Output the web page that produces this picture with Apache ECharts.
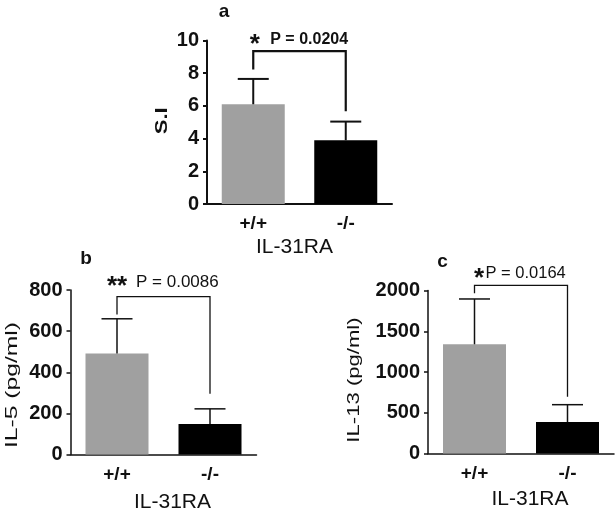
<!DOCTYPE html>
<html>
<head>
<meta charset="utf-8">
<script src="https://cdn.jsdelivr.net/npm/echarts@6/dist/echarts.min.js"></script>
<style>
html,body{margin:0;padding:0;background:#fff;}
#chart{width:615px;height:515px;}
</style>
</head>
<body>
<div id="chart"></div>
<script>
// ---- data ----
const categories = ['+/+', '-/-'];
const xTitle = 'IL-31RA';
const panelLetters = ['a', 'b', 'c'];
const yTitles = ['S.I', 'IL-5 (pg/ml)', 'IL-13 (pg/ml)'];
const yMax = [10, 800, 2000];
const yStep = [2, 200, 500];
const siMean = [6.1, 3.9];
const siSd = [1.55, 1.14];
const il5Mean = [491, 148];
const il5Sd = [169, 74];
const il13Mean = [1340, 385];
const il13Sd = [556, 214];
const stars = ['*', '**', '*'];
const pValues = ['P = 0.0204', 'P = 0.0086', 'P = 0.0164'];
// bracket: [left leg bottom, bracket top, right leg bottom] in axis units
const siBracket = [8.23, 9.35, 5.67];
const il5Bracket = [681, 768, 295];
const il13Bracket = [1966, 2064, 697];

const means = [siMean, il5Mean, il13Mean];
const sds = [siSd, il5Sd, il13Sd];
const brackets = [siBracket, il5Bracket, il13Bracket];

// ---- styles / layout ----
const FONT = 'Liberation Sans, Arial, Helvetica, sans-serif';
const barColors = ['#a0a0a0', '#000000'];
const panels = [
  {grid: {left: 207, top: 40.5, width: 185, height: 163.5}, lw: 2, blw: 2.2,
   pFont: 'bold 16px ' + FONT, starDx: 1.5, starY: -6, pDx: 17, pY: -12,
   nameGap: 33, nameShift: -5, labelMargin: 10,
   yt: {x: 162.3, y: 120.8, sx: 1.3, font: 'bold 17px ' + FONT},
   letter: {x: 224, y: 12}},
  {grid: {left: 70.5, top: 290, width: 186, height: 164.5}, lw: 1.5, blw: 1.3,
   pFont: '17px ' + FONT, starDx: 0, starY: -10, pDx: 19, pY: -14,
   nameGap: 37, nameShift: 9, labelMargin: 11,
   yt: {x: 12.5, y: 385, sx: 1.45, font: '17px ' + FONT},
   letter: {x: 86, y: 259}},
  {grid: {left: 428, top: 290.5, width: 186, height: 163}, lw: 1.5, blw: 1.3,
   pFont: '16.5px ' + FONT, starDx: 4.5, starY: -6, pDx: 11, pY: -11.5,
   nameGap: 35, nameShift: 9, labelMargin: 11,
   yt: {x: 354.2, y: 380, sx: 1.3, font: '17px ' + FONT},
   letter: {x: 442.5, y: 262}}
];

const grids = [], xAxes = [], yAxes = [], series = [], graphics = [];

panels.forEach(function (p, k) {
  grids.push(p.grid);
  const pad = p.nameShift >= 0 ? [0, 0, 0, 2 * p.nameShift] : [0, -2 * p.nameShift, 0, 0];
  xAxes.push({
    type: 'category', gridIndex: k, data: categories,
    name: xTitle, nameLocation: 'middle', nameGap: p.nameGap,
    nameTextStyle: {fontFamily: FONT, fontSize: 21, color: '#111', padding: pad},
    axisLine: {lineStyle: {color: '#111', width: p.lw}},
    axisTick: {alignWithLabel: true, length: 4, lineStyle: {color: '#111', width: p.lw}},
    axisLabel: {fontFamily: FONT, fontSize: 19, fontWeight: 'bold', color: '#111', margin: p.labelMargin}
  });
  yAxes.push({
    type: 'value', gridIndex: k, min: 0, max: yMax[k], interval: yStep[k],
    axisLine: {show: true, lineStyle: {color: '#111', width: p.lw}},
    axisTick: {show: true, length: 4, lineStyle: {color: '#111', width: p.lw}},
    axisLabel: {fontFamily: FONT, fontSize: 20, fontWeight: 'bold', color: '#111', margin: 8,
      formatter: function (v) { return String(v); }},
    splitLine: {show: false}
  });

  series.push({
    type: 'bar', xAxisIndex: k, yAxisIndex: k, barWidth: 63, silent: true,
    data: means[k].map(function (v, i) { return {value: v, itemStyle: {color: barColors[i]}}; }),
    z: 2
  });

  series.push({
    type: 'custom', xAxisIndex: k, yAxisIndex: k, silent: true, clip: false, z: 3,
    data: means[k].map(function (v, i) { return [i, v, v + sds[k][i]]; }),
    encode: {x: 0, y: [1, 2]},
    renderItem: function (params, api) {
      const a = api.coord([api.value(0), api.value(1)]);
      const b = api.coord([api.value(0), api.value(2)]);
      const half = 15.5;
      const st = {stroke: '#111', lineWidth: p.lw};
      return {type: 'group', children: [
        {type: 'line', shape: {x1: a[0], y1: a[1], x2: b[0], y2: b[1]}, style: st},
        {type: 'line', shape: {x1: b[0] - half, y1: b[1], x2: b[0] + half, y2: b[1]}, style: st}
      ]};
    }
  });

  const br = brackets[k];
  series.push({
    type: 'custom', xAxisIndex: k, yAxisIndex: k, silent: true, clip: false, z: 4,
    data: [[0, 1, br[0], br[1], br[2]]],
    encode: {x: [0, 1], y: [2, 3, 4]},
    renderItem: function (params, api) {
      const l0 = api.coord([api.value(0), api.value(2)]);
      const lt = api.coord([api.value(0), api.value(3)]);
      const rt = api.coord([api.value(1), api.value(3)]);
      const r0 = api.coord([api.value(1), api.value(4)]);
      return {type: 'group', children: [
        {type: 'polyline', shape: {points: [l0, lt, rt, r0]},
         style: {stroke: '#111', lineWidth: p.blw, fill: null, lineJoin: 'miter'}},
        {type: 'text', x: lt[0] + p.starDx, y: lt[1] + p.starY,
         style: {text: stars[k], font: 'bold 26px ' + FONT, fill: '#111', align: 'center', verticalAlign: 'middle'}},
        {type: 'text', x: lt[0] + p.pDx, y: lt[1] + p.pY,
         style: {text: pValues[k], font: p.pFont, fill: '#111', align: 'left', verticalAlign: 'middle'}}
      ]};
    }
  });

  graphics.push({
    type: 'text', x: p.yt.x, y: p.yt.y, rotation: Math.PI / 2, scaleX: p.yt.sx, scaleY: 1,
    style: {text: yTitles[k], font: p.yt.font, fill: '#111', align: 'center', verticalAlign: 'middle'}
  });
  graphics.push({
    type: 'text', x: p.letter.x, y: p.letter.y,
    style: {text: panelLetters[k], font: 'bold 19px ' + FONT, fill: '#111', align: 'center', verticalAlign: 'middle'}
  });
});

const chart = echarts.init(document.getElementById('chart'), null, {renderer: 'canvas'});
chart.setOption({
  animation: false,
  backgroundColor: '#fff',
  grid: grids,
  xAxis: xAxes,
  yAxis: yAxes,
  series: series,
  graphic: graphics
});
</script>
</body>
</html>
